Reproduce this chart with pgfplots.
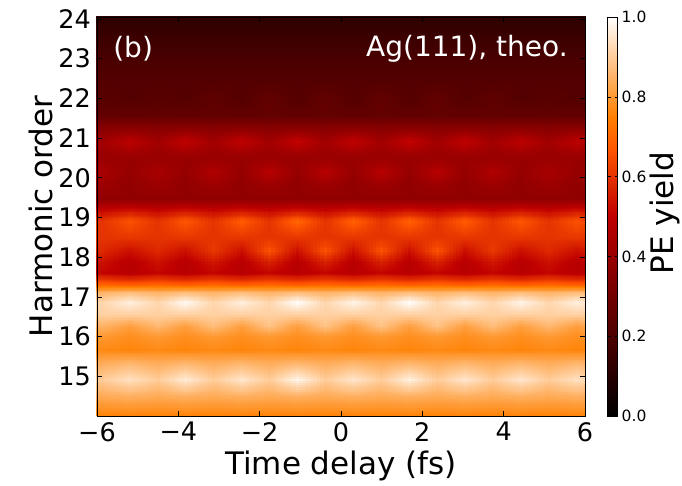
\documentclass[border=0pt]{standalone}
\usepackage{pgfplots}
\pgfplotsset{compat=1.18}
\usepgfplotslibrary{patchplots}
\usepackage{fontspec}
\setmainfont{DejaVu Sans}
\pgfplotsset{colormap={gistheat}{rgb(0cm)=(0,0,0) rgb(6cm)=(0.75,0,0) rgb(8cm)=(1,0.3333,0) rgb(9cm)=(1,0.5,0) rgb(12cm)=(1,1,1)}}
\begin{document}
\begin{tikzpicture}
\useasboundingbox (-97pt,-70pt) rectangle (585pt,416pt);
\begin{axis}[
  at={(0pt,0pt)}, anchor=south west,
  scale only axis, width=488pt, height=399pt,
  xmin=-6, xmax=6, ymin=14, ymax=24.05,
  colormap name=gistheat,
  point meta min=0, point meta max=1,
  axis on top,
  xtick={-6,-4,-2,0,2,4,6},
  xticklabels={−6,−4,−2,0,2,4,6},
  ytick={15,16,17,18,19,20,21,22,23,24},
  yticklabels={15,16,17,18,19,20,21,22,23,24},
  xticklabel style={font=\fontsize{25.5}{30}\selectfont, inner sep=0pt, yshift=-6pt},
  yticklabel style={font=\fontsize{25.5}{30}\selectfont, inner sep=0pt, xshift=-6pt},
  major tick length=5pt,
  tick style={black, line width=0.6pt},
  axis line style={black, line width=0.8pt},
  xlabel={Time delay (fs)},
  xlabel style={font=\fontsize{31}{36}\selectfont, at={(axis description cs:0.5,0)}, anchor=base, yshift=-59pt},
  ylabel={Harmonic order},
  ylabel style={font=\fontsize{31}{36}\selectfont, at={(axis description cs:-0.0922,0.5)}, anchor=base},
  colorbar,
  colorbar style={
    at={(parent axis.north east)}, anchor=north west, xshift=14pt,
    scale only axis, width=10pt, height=399pt,
    ytick={0,0.2,0.4,0.6,0.8,1},
    yticklabels={0.0,0.2,0.4,0.6,0.8,1.0},
    yticklabel style={font=\fontsize{15.5}{18}\selectfont, inner sep=0pt, xshift=4pt},
    major tick length=3pt,
    tick style={black},
    axis line style={black, line width=0.6pt},
  },
]
\addplot[surf, shader=interp, patch type=bilinear, mesh/cols=20, point meta=explicit] table[row sep=\\, x=x, y=y, meta=z] {
x y z\\
-6.59 14 0.76\\ -5.91 14 0.76\\ -5.22 14 0.76\\ -4.53 14 0.76\\ -3.85 14 0.76\\ -3.16 14 0.76\\ -2.47 14 0.76\\ -1.79 14 0.76\\ -1.10 14 0.76\\ -0.41 14 0.76\\ 0.28 14 0.76\\ 0.96 14 0.76\\ 1.65 14 0.76\\ 2.34 14 0.76\\ 3.02 14 0.76\\ 3.71 14 0.76\\ 4.40 14 0.76\\ 5.09 14 0.76\\ 5.77 14 0.76\\ 6.46 14 0.76\\
-6.59 14.45 0.84\\ -5.91 14.45 0.83\\ -5.22 14.45 0.84\\ -4.53 14.45 0.83\\ -3.85 14.45 0.84\\ -3.16 14.45 0.83\\ -2.47 14.45 0.84\\ -1.79 14.45 0.83\\ -1.10 14.45 0.84\\ -0.41 14.45 0.83\\ 0.28 14.45 0.84\\ 0.96 14.45 0.83\\ 1.65 14.45 0.84\\ 2.34 14.45 0.83\\ 3.02 14.45 0.84\\ 3.71 14.45 0.83\\ 4.40 14.45 0.84\\ 5.09 14.45 0.83\\ 5.77 14.45 0.84\\ 6.46 14.45 0.83\\
-6.59 14.9 0.93\\ -5.91 14.9 0.90\\ -5.22 14.9 0.94\\ -4.53 14.9 0.90\\ -3.85 14.9 0.96\\ -3.16 14.9 0.90\\ -2.47 14.9 0.95\\ -1.79 14.9 0.90\\ -1.10 14.9 0.98\\ -0.41 14.9 0.90\\ 0.28 14.9 0.95\\ 0.96 14.9 0.90\\ 1.65 14.9 0.97\\ 2.34 14.9 0.90\\ 3.02 14.9 0.95\\ 3.71 14.9 0.90\\ 4.40 14.9 0.95\\ 5.09 14.9 0.90\\ 5.77 14.9 0.94\\ 6.46 14.9 0.90\\
-6.59 15.3 0.86\\ -5.91 15.3 0.84\\ -5.22 15.3 0.86\\ -4.53 15.3 0.84\\ -3.85 15.3 0.86\\ -3.16 15.3 0.84\\ -2.47 15.3 0.86\\ -1.79 15.3 0.84\\ -1.10 15.3 0.86\\ -0.41 15.3 0.84\\ 0.28 15.3 0.86\\ 0.96 15.3 0.84\\ 1.65 15.3 0.86\\ 2.34 15.3 0.84\\ 3.02 15.3 0.86\\ 3.71 15.3 0.84\\ 4.40 15.3 0.86\\ 5.09 15.3 0.84\\ 5.77 15.3 0.86\\ 6.46 15.3 0.84\\
-6.59 15.65 0.76\\ -5.91 15.65 0.77\\ -5.22 15.65 0.76\\ -4.53 15.65 0.77\\ -3.85 15.65 0.76\\ -3.16 15.65 0.77\\ -2.47 15.65 0.76\\ -1.79 15.65 0.77\\ -1.10 15.65 0.76\\ -0.41 15.65 0.77\\ 0.28 15.65 0.76\\ 0.96 15.65 0.77\\ 1.65 15.65 0.76\\ 2.34 15.65 0.77\\ 3.02 15.65 0.76\\ 3.71 15.65 0.77\\ 4.40 15.65 0.76\\ 5.09 15.65 0.77\\ 5.77 15.65 0.76\\ 6.46 15.65 0.77\\
-6.59 16.0 0.78\\ -5.91 16.0 0.80\\ -5.22 16.0 0.78\\ -4.53 16.0 0.80\\ -3.85 16.0 0.78\\ -3.16 16.0 0.80\\ -2.47 16.0 0.78\\ -1.79 16.0 0.80\\ -1.10 16.0 0.78\\ -0.41 16.0 0.80\\ 0.28 16.0 0.78\\ 0.96 16.0 0.80\\ 1.65 16.0 0.78\\ 2.34 16.0 0.80\\ 3.02 16.0 0.78\\ 3.71 16.0 0.80\\ 4.40 16.0 0.78\\ 5.09 16.0 0.80\\ 5.77 16.0 0.78\\ 6.46 16.0 0.80\\
-6.59 16.25 0.81\\ -5.91 16.25 0.85\\ -5.22 16.25 0.81\\ -4.53 16.25 0.86\\ -3.85 16.25 0.81\\ -3.16 16.25 0.87\\ -2.47 16.25 0.81\\ -1.79 16.25 0.88\\ -1.10 16.25 0.81\\ -0.41 16.25 0.88\\ 0.28 16.25 0.81\\ 0.96 16.25 0.88\\ 1.65 16.25 0.81\\ 2.34 16.25 0.88\\ 3.02 16.25 0.81\\ 3.71 16.25 0.87\\ 4.40 16.25 0.81\\ 5.09 16.25 0.86\\ 5.77 16.25 0.81\\ 6.46 16.25 0.85\\
-6.59 16.55 0.91\\ -5.91 16.55 0.91\\ -5.22 16.55 0.91\\ -4.53 16.55 0.91\\ -3.85 16.55 0.91\\ -3.16 16.55 0.91\\ -2.47 16.55 0.91\\ -1.79 16.55 0.91\\ -1.10 16.55 0.91\\ -0.41 16.55 0.91\\ 0.28 16.55 0.91\\ 0.96 16.55 0.91\\ 1.65 16.55 0.91\\ 2.34 16.55 0.91\\ 3.02 16.55 0.91\\ 3.71 16.55 0.91\\ 4.40 16.55 0.91\\ 5.09 16.55 0.91\\ 5.77 16.55 0.91\\ 6.46 16.55 0.91\\
-6.59 16.85 0.96\\ -5.91 16.85 0.92\\ -5.22 16.85 0.97\\ -4.53 16.85 0.92\\ -3.85 16.85 0.99\\ -3.16 16.85 0.92\\ -2.47 16.85 0.97\\ -1.79 16.85 0.92\\ -1.10 16.85 1.00\\ -0.41 16.85 0.92\\ 0.28 16.85 0.98\\ 0.96 16.85 0.92\\ 1.65 16.85 1.00\\ 2.34 16.85 0.92\\ 3.02 16.85 0.97\\ 3.71 16.85 0.92\\ 4.40 16.85 0.98\\ 5.09 16.85 0.92\\ 5.77 16.85 0.97\\ 6.46 16.85 0.92\\
-6.59 17.1 0.87\\ -5.91 17.1 0.85\\ -5.22 17.1 0.87\\ -4.53 17.1 0.85\\ -3.85 17.1 0.87\\ -3.16 17.1 0.85\\ -2.47 17.1 0.87\\ -1.79 17.1 0.85\\ -1.10 17.1 0.87\\ -0.41 17.1 0.85\\ 0.28 17.1 0.87\\ 0.96 17.1 0.85\\ 1.65 17.1 0.87\\ 2.34 17.1 0.85\\ 3.02 17.1 0.87\\ 3.71 17.1 0.85\\ 4.40 17.1 0.87\\ 5.09 17.1 0.85\\ 5.77 17.1 0.87\\ 6.46 17.1 0.85\\
-6.59 17.35 0.64\\ -5.91 17.35 0.66\\ -5.22 17.35 0.64\\ -4.53 17.35 0.66\\ -3.85 17.35 0.64\\ -3.16 17.35 0.66\\ -2.47 17.35 0.64\\ -1.79 17.35 0.66\\ -1.10 17.35 0.64\\ -0.41 17.35 0.66\\ 0.28 17.35 0.64\\ 0.96 17.35 0.66\\ 1.65 17.35 0.64\\ 2.34 17.35 0.66\\ 3.02 17.35 0.64\\ 3.71 17.35 0.66\\ 4.40 17.35 0.64\\ 5.09 17.35 0.66\\ 5.77 17.35 0.64\\ 6.46 17.35 0.66\\
-6.59 17.6 0.48\\ -5.91 17.6 0.51\\ -5.22 17.6 0.48\\ -4.53 17.6 0.51\\ -3.85 17.6 0.48\\ -3.16 17.6 0.51\\ -2.47 17.6 0.48\\ -1.79 17.6 0.51\\ -1.10 17.6 0.48\\ -0.41 17.6 0.51\\ 0.28 17.6 0.48\\ 0.96 17.6 0.51\\ 1.65 17.6 0.48\\ 2.34 17.6 0.51\\ 3.02 17.6 0.48\\ 3.71 17.6 0.51\\ 4.40 17.6 0.48\\ 5.09 17.6 0.51\\ 5.77 17.6 0.48\\ 6.46 17.6 0.51\\
-6.59 17.85 0.48\\ -5.91 17.85 0.53\\ -5.22 17.85 0.48\\ -4.53 17.85 0.53\\ -3.85 17.85 0.48\\ -3.16 17.85 0.54\\ -2.47 17.85 0.48\\ -1.79 17.85 0.56\\ -1.10 17.85 0.48\\ -0.41 17.85 0.56\\ 0.28 17.85 0.48\\ 0.96 17.85 0.56\\ 1.65 17.85 0.48\\ 2.34 17.85 0.56\\ 3.02 17.85 0.48\\ 3.71 17.85 0.54\\ 4.40 17.85 0.48\\ 5.09 17.85 0.53\\ 5.77 17.85 0.48\\ 6.46 17.85 0.53\\
-6.59 18.15 0.53\\ -5.91 18.15 0.58\\ -5.22 18.15 0.53\\ -4.53 18.15 0.58\\ -3.85 18.15 0.53\\ -3.16 18.15 0.61\\ -2.47 18.15 0.53\\ -1.79 18.15 0.66\\ -1.10 18.15 0.53\\ -0.41 18.15 0.66\\ 0.28 18.15 0.53\\ 0.96 18.15 0.66\\ 1.65 18.15 0.53\\ 2.34 18.15 0.66\\ 3.02 18.15 0.53\\ 3.71 18.15 0.61\\ 4.40 18.15 0.53\\ 5.09 18.15 0.58\\ 5.77 18.15 0.53\\ 6.46 18.15 0.58\\
-6.59 18.5 0.61\\ -5.91 18.5 0.60\\ -5.22 18.5 0.61\\ -4.53 18.5 0.60\\ -3.85 18.5 0.61\\ -3.16 18.5 0.60\\ -2.47 18.5 0.61\\ -1.79 18.5 0.60\\ -1.10 18.5 0.61\\ -0.41 18.5 0.60\\ 0.28 18.5 0.61\\ 0.96 18.5 0.60\\ 1.65 18.5 0.61\\ 2.34 18.5 0.60\\ 3.02 18.5 0.61\\ 3.71 18.5 0.60\\ 4.40 18.5 0.61\\ 5.09 18.5 0.60\\ 5.77 18.5 0.61\\ 6.46 18.5 0.60\\
-6.59 18.9 0.64\\ -5.91 18.9 0.60\\ -5.22 18.9 0.66\\ -4.53 18.9 0.60\\ -3.85 18.9 0.67\\ -3.16 18.9 0.60\\ -2.47 18.9 0.68\\ -1.79 18.9 0.60\\ -1.10 18.9 0.70\\ -0.41 18.9 0.60\\ 0.28 18.9 0.69\\ 0.96 18.9 0.60\\ 1.65 18.9 0.69\\ 2.34 18.9 0.60\\ 3.02 18.9 0.68\\ 3.71 18.9 0.60\\ 4.40 18.9 0.67\\ 5.09 18.9 0.60\\ 5.77 18.9 0.66\\ 6.46 18.9 0.60\\
-6.59 19.15 0.55\\ -5.91 19.15 0.52\\ -5.22 19.15 0.55\\ -4.53 19.15 0.52\\ -3.85 19.15 0.55\\ -3.16 19.15 0.52\\ -2.47 19.15 0.55\\ -1.79 19.15 0.52\\ -1.10 19.15 0.55\\ -0.41 19.15 0.52\\ 0.28 19.15 0.55\\ 0.96 19.15 0.52\\ 1.65 19.15 0.55\\ 2.34 19.15 0.52\\ 3.02 19.15 0.55\\ 3.71 19.15 0.52\\ 4.40 19.15 0.55\\ 5.09 19.15 0.52\\ 5.77 19.15 0.55\\ 6.46 19.15 0.52\\
-6.59 19.45 0.38\\ -5.91 19.45 0.38\\ -5.22 19.45 0.38\\ -4.53 19.45 0.38\\ -3.85 19.45 0.38\\ -3.16 19.45 0.38\\ -2.47 19.45 0.38\\ -1.79 19.45 0.38\\ -1.10 19.45 0.38\\ -0.41 19.45 0.38\\ 0.28 19.45 0.38\\ 0.96 19.45 0.38\\ 1.65 19.45 0.38\\ 2.34 19.45 0.38\\ 3.02 19.45 0.38\\ 3.71 19.45 0.38\\ 4.40 19.45 0.38\\ 5.09 19.45 0.38\\ 5.77 19.45 0.38\\ 6.46 19.45 0.38\\
-6.59 19.8 0.38\\ -5.91 19.8 0.41\\ -5.22 19.8 0.38\\ -4.53 19.8 0.41\\ -3.85 19.8 0.38\\ -3.16 19.8 0.41\\ -2.47 19.8 0.38\\ -1.79 19.8 0.41\\ -1.10 19.8 0.38\\ -0.41 19.8 0.41\\ 0.28 19.8 0.38\\ 0.96 19.8 0.41\\ 1.65 19.8 0.38\\ 2.34 19.8 0.41\\ 3.02 19.8 0.38\\ 3.71 19.8 0.41\\ 4.40 19.8 0.38\\ 5.09 19.8 0.41\\ 5.77 19.8 0.38\\ 6.46 19.8 0.41\\
-6.59 20.12 0.39\\ -5.91 20.12 0.44\\ -5.22 20.12 0.39\\ -4.53 20.12 0.44\\ -3.85 20.12 0.39\\ -3.16 20.12 0.46\\ -2.47 20.12 0.39\\ -1.79 20.12 0.48\\ -1.10 20.12 0.39\\ -0.41 20.12 0.48\\ 0.28 20.12 0.39\\ 0.96 20.12 0.48\\ 1.65 20.12 0.39\\ 2.34 20.12 0.48\\ 3.02 20.12 0.39\\ 3.71 20.12 0.46\\ 4.40 20.12 0.39\\ 5.09 20.12 0.44\\ 5.77 20.12 0.39\\ 6.46 20.12 0.44\\
-6.59 20.5 0.40\\ -5.91 20.5 0.40\\ -5.22 20.5 0.40\\ -4.53 20.5 0.40\\ -3.85 20.5 0.40\\ -3.16 20.5 0.40\\ -2.47 20.5 0.40\\ -1.79 20.5 0.40\\ -1.10 20.5 0.40\\ -0.41 20.5 0.40\\ 0.28 20.5 0.40\\ 0.96 20.5 0.40\\ 1.65 20.5 0.40\\ 2.34 20.5 0.40\\ 3.02 20.5 0.40\\ 3.71 20.5 0.40\\ 4.40 20.5 0.40\\ 5.09 20.5 0.40\\ 5.77 20.5 0.40\\ 6.46 20.5 0.40\\
-6.59 20.9 0.48\\ -5.91 20.9 0.42\\ -5.22 20.9 0.49\\ -4.53 20.9 0.42\\ -3.85 20.9 0.50\\ -3.16 20.9 0.42\\ -2.47 20.9 0.50\\ -1.79 20.9 0.42\\ -1.10 20.9 0.51\\ -0.41 20.9 0.42\\ 0.28 20.9 0.50\\ 0.96 20.9 0.42\\ 1.65 20.9 0.51\\ 2.34 20.9 0.42\\ 3.02 20.9 0.50\\ 3.71 20.9 0.42\\ 4.40 20.9 0.49\\ 5.09 20.9 0.42\\ 5.77 20.9 0.49\\ 6.46 20.9 0.42\\
-6.59 21.25 0.36\\ -5.91 21.25 0.35\\ -5.22 21.25 0.36\\ -4.53 21.25 0.35\\ -3.85 21.25 0.36\\ -3.16 21.25 0.35\\ -2.47 21.25 0.36\\ -1.79 21.25 0.35\\ -1.10 21.25 0.36\\ -0.41 21.25 0.35\\ 0.28 21.25 0.36\\ 0.96 21.25 0.35\\ 1.65 21.25 0.36\\ 2.34 21.25 0.35\\ 3.02 21.25 0.36\\ 3.71 21.25 0.35\\ 4.40 21.25 0.36\\ 5.09 21.25 0.35\\ 5.77 21.25 0.36\\ 6.46 21.25 0.35\\
-6.59 21.55 0.26\\ -5.91 21.55 0.26\\ -5.22 21.55 0.26\\ -4.53 21.55 0.26\\ -3.85 21.55 0.26\\ -3.16 21.55 0.26\\ -2.47 21.55 0.26\\ -1.79 21.55 0.26\\ -1.10 21.55 0.26\\ -0.41 21.55 0.26\\ 0.28 21.55 0.26\\ 0.96 21.55 0.26\\ 1.65 21.55 0.26\\ 2.34 21.55 0.26\\ 3.02 21.55 0.26\\ 3.71 21.55 0.26\\ 4.40 21.55 0.26\\ 5.09 21.55 0.26\\ 5.77 21.55 0.26\\ 6.46 21.55 0.26\\
-6.59 21.95 0.22\\ -5.91 21.95 0.23\\ -5.22 21.95 0.22\\ -4.53 21.95 0.23\\ -3.85 21.95 0.22\\ -3.16 21.95 0.25\\ -2.47 21.95 0.22\\ -1.79 21.95 0.26\\ -1.10 21.95 0.22\\ -0.41 21.95 0.26\\ 0.28 21.95 0.22\\ 0.96 21.95 0.26\\ 1.65 21.95 0.22\\ 2.34 21.95 0.26\\ 3.02 21.95 0.22\\ 3.71 21.95 0.25\\ 4.40 21.95 0.22\\ 5.09 21.95 0.23\\ 5.77 21.95 0.22\\ 6.46 21.95 0.23\\
-6.59 22.4 0.22\\ -5.91 22.4 0.22\\ -5.22 22.4 0.22\\ -4.53 22.4 0.22\\ -3.85 22.4 0.22\\ -3.16 22.4 0.22\\ -2.47 22.4 0.22\\ -1.79 22.4 0.22\\ -1.10 22.4 0.22\\ -0.41 22.4 0.22\\ 0.28 22.4 0.22\\ 0.96 22.4 0.22\\ 1.65 22.4 0.22\\ 2.34 22.4 0.22\\ 3.02 22.4 0.22\\ 3.71 22.4 0.22\\ 4.40 22.4 0.22\\ 5.09 22.4 0.22\\ 5.77 22.4 0.22\\ 6.46 22.4 0.22\\
-6.59 23.0 0.19\\ -5.91 23.0 0.19\\ -5.22 23.0 0.19\\ -4.53 23.0 0.19\\ -3.85 23.0 0.19\\ -3.16 23.0 0.19\\ -2.47 23.0 0.19\\ -1.79 23.0 0.19\\ -1.10 23.0 0.19\\ -0.41 23.0 0.19\\ 0.28 23.0 0.19\\ 0.96 23.0 0.19\\ 1.65 23.0 0.19\\ 2.34 23.0 0.19\\ 3.02 23.0 0.19\\ 3.71 23.0 0.19\\ 4.40 23.0 0.19\\ 5.09 23.0 0.19\\ 5.77 23.0 0.19\\ 6.46 23.0 0.19\\
-6.59 23.6 0.15\\ -5.91 23.6 0.15\\ -5.22 23.6 0.15\\ -4.53 23.6 0.15\\ -3.85 23.6 0.15\\ -3.16 23.6 0.15\\ -2.47 23.6 0.15\\ -1.79 23.6 0.15\\ -1.10 23.6 0.15\\ -0.41 23.6 0.15\\ 0.28 23.6 0.15\\ 0.96 23.6 0.15\\ 1.65 23.6 0.15\\ 2.34 23.6 0.15\\ 3.02 23.6 0.15\\ 3.71 23.6 0.15\\ 4.40 23.6 0.15\\ 5.09 23.6 0.15\\ 5.77 23.6 0.15\\ 6.46 23.6 0.15\\
-6.59 24.1 0.11\\ -5.91 24.1 0.11\\ -5.22 24.1 0.11\\ -4.53 24.1 0.11\\ -3.85 24.1 0.11\\ -3.16 24.1 0.11\\ -2.47 24.1 0.11\\ -1.79 24.1 0.11\\ -1.10 24.1 0.11\\ -0.41 24.1 0.11\\ 0.28 24.1 0.11\\ 0.96 24.1 0.11\\ 1.65 24.1 0.11\\ 2.34 24.1 0.11\\ 3.02 24.1 0.11\\ 3.71 24.1 0.11\\ 4.40 24.1 0.11\\ 5.09 24.1 0.11\\ 5.77 24.1 0.11\\ 6.46 24.1 0.11\\
};
\node[anchor=west, text=white, font=\fontsize{28}{33}\selectfont, inner sep=0pt] at (rel axis cs:0.033,0.92) {(b)};
\node[anchor=east, text=white, font=\fontsize{28}{33}\selectfont, inner sep=0pt] at (rel axis cs:0.965,0.92) {Ag(111), theo.};
\end{axis}
\node[rotate=90, font=\fontsize{31}{36}\selectfont, inner sep=0pt] at (568pt,203pt) {PE yield};
\end{tikzpicture}
\end{document}
